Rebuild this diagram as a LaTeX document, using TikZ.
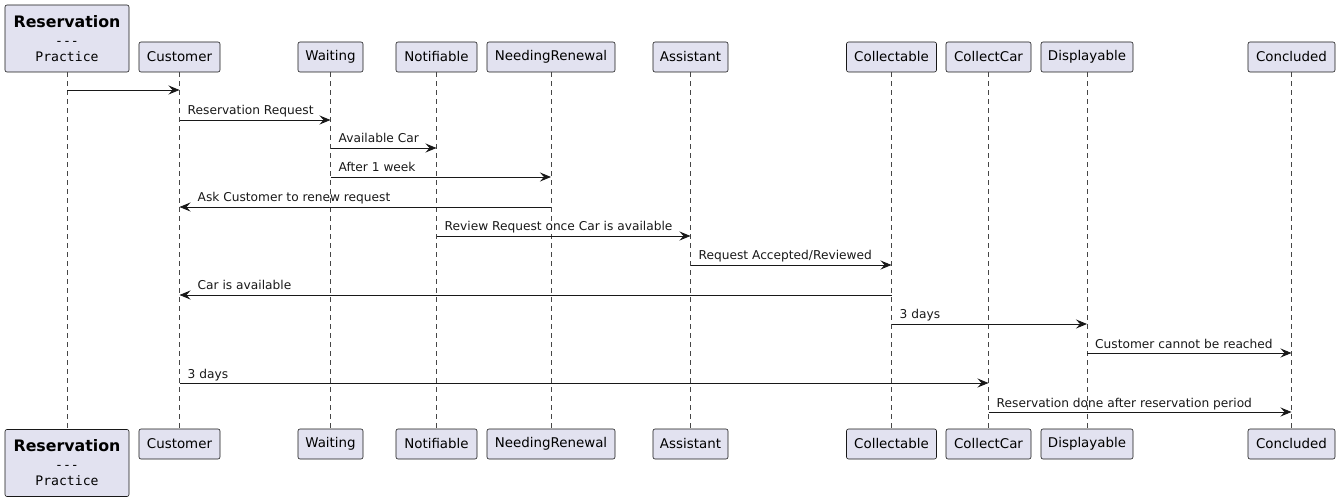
\documentclass[tikz,border=0pt]{standalone}
\usepackage{fontspec}
\setmainfont{DejaVu Sans}
\setmonofont{DejaVu Sans Mono}
\usetikzlibrary{arrows.meta}
\definecolor{partfill}{HTML}{E2E2F0}
\definecolor{ink}{HTML}{181818}
\newcommand{\resbox}{{\fontsize{15.8}{19}\selectfont\bfseries Reservation}\\[3pt]{\ttfamily\fontsize{13.1}{16}\selectfont ---}\\[1pt]{\ttfamily\fontsize{13.1}{16}\selectfont Practice}}
\begin{document}
\begin{tikzpicture}[x=1pt, y=-1pt,
    part/.style={draw=ink, fill=partfill, rounded corners=2pt, line width=0.6pt,
                 minimum height=30pt, inner sep=0pt, font=\fontsize{13.4}{15}\selectfont},
    life/.style={draw=ink!80, line width=0.5pt, dash pattern=on 5pt off 4pt},
    msg/.style={draw=ink, line width=0.9pt, -{Stealth[length=11pt, width=9pt, inset=4pt]}},
    lbl/.style={anchor=base west, inner sep=0pt, text=ink, font=\fontsize{12.2}{14}\selectfont}]
  \useasboundingbox (0,0) rectangle (1340,502);
  % participants, top and bottom
  \node[part, minimum width=124pt, minimum height=67pt, align=center] (resT) at (67,38.5) {\resbox};
  \node[part, minimum width=124pt, minimum height=67pt, align=center] (resB) at (67,463) {\resbox};
  \draw[life] (resT) -- (resB);
  \foreach \name/\txt/\x/\w in {cust/Customer/179.5/81, wait/Waiting/330.5/65,
      notif/Notifiable/436.5/81, renew/NeedingRenewal/551/128, assist/Assistant/690.5/75,
      collect/Collectable/891.5/90, ccar/CollectCar/988.5/85, disp/Displayable/1087/92,
      concl/Concluded/1291.5/87} {
    \node[part, minimum width=\w pt] (\name T) at (\x,57) {\txt};
    \node[part, minimum width=\w pt] (\name B) at (\x,444) {\txt};
    \draw[life] (\name T) -- (\name B);
  }
  % messages
  \draw[msg] (resT |- 0,90) -- (custT |- 0,90);
  \draw[msg] (custT |- 0,120) -- (waitT |- 0,120);
  \node[lbl] (m2) at ([xshift=8pt, yshift=5pt]custT |- 0,120) {Reservation Request};
  \draw[msg] (waitT |- 0,148) -- (notifT |- 0,148);
  \node[lbl] (m3) at ([xshift=8pt, yshift=5pt]waitT |- 0,148) {Available Car};
  \draw[msg] (waitT |- 0,177) -- (renewT |- 0,177);
  \node[lbl] (m4) at ([xshift=8pt, yshift=5pt]waitT |- 0,177) {After 1 week};
  \draw[msg] (renewT |- 0,207) -- (custT |- 0,207);
  \node[lbl] (m5) at ([xshift=18pt, yshift=5pt]custT |- 0,207) {Ask Customer to renew request};
  \draw[msg] (notifT |- 0,236) -- (assistT |- 0,236);
  \node[lbl] (m6) at ([xshift=8pt, yshift=5pt]notifT |- 0,236) {Review Request once Car is available};
  \draw[msg] (assistT |- 0,265) -- (collectT |- 0,265);
  \node[lbl] (m7) at ([xshift=8pt, yshift=5pt]assistT |- 0,265) {Request Accepted/Reviewed};
  \draw[msg] (collectT |- 0,295) -- (custT |- 0,295);
  \node[lbl] (m8) at ([xshift=18pt, yshift=5pt]custT |- 0,295) {Car is available};
  \draw[msg] (collectT |- 0,324) -- (dispT |- 0,324);
  \node[lbl] (m9) at ([xshift=8pt, yshift=5pt]collectT |- 0,324) {3 days};
  \draw[msg] (dispT |- 0,353) -- (conclT |- 0,353);
  \node[lbl] (m10) at ([xshift=8pt, yshift=5pt]dispT |- 0,353) {Customer cannot be reached};
  \draw[msg] (custT |- 0,383) -- (ccarT |- 0,383);
  \node[lbl] (m11) at ([xshift=8pt, yshift=5pt]custT |- 0,383) {3 days};
  \draw[msg] (ccarT |- 0,412) -- (conclT |- 0,412);
  \node[lbl] (m12) at ([xshift=8pt, yshift=5pt]ccarT |- 0,412) {Reservation done after reservation period};
\end{tikzpicture}
\end{document}
